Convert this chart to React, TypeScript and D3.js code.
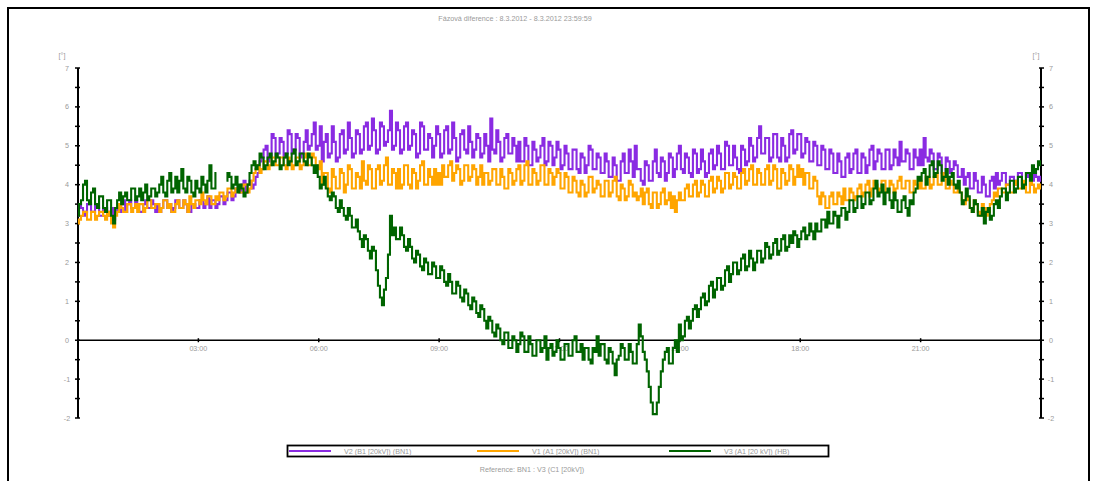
import React from "react";
import * as d3 from "d3";

const TITLE = "Fázová diference :   8.3.2012  -  8.3.2012 23:59:59";
const FOOTER = "Reference: BN1 : V3 (C1 [20kV])";
const UNIT = "[°]";
const SERIES_NAMES = ["V2 (B1 [20kV]) (BN1)", "V1 (A1 [20kV]) (BN1)", "V3 (A1 [20 kV]) (HB)"];
const SERIES_COLORS = ["#8a2be2", "#ffa500", "#006400"];
const Y_TICKS = [7, 6, 5, 4, 3, 2, 1, 0, -1, -2];
const Y_MINOR = [6.5, 5.5, 4.5, 3.5, 2.5, 1.5, 0.5, -0.5, -1.5];
const X_TICKS = [3, 6, 9, 12, 15, 18, 21];
const X_LABELS = ["03:00", "06:00", "09:00", "12:00", "15:00", "18:00", "21:00"];

// readings every 6 minutes (A: hh:00, hh:06 ...), 00:00 .. 24:00
const V2_A: (number | null)[] = [
  3.2, 3.4, 3.3, 3.5, 3.3, 3.4, 3.2, 3.4, 3.3, 3.1,
  3.4, 3.5, 3.3, 3.6, 3.4, 3.5, 3.3, 3.6, 3.4, 3.5,
  3.5, 3.4, 3.6, 3.5, 3.4, 3.6, 3.4, 3.5, 3.3, 3.5,
  3.4, 3.6, 3.5, 3.4, 3.6, 3.5, 3.7, 3.6, 3.8, 3.7,
  3.9, 4.0, 3.8, 4.1, 4.0, 4.3, 4.7, 5.0, 4.7, 5.2,
  4.8, 5.1, 4.8, 5.3, 4.9, 5.2, 4.8, 5.4, 5.0, 5.6,
  5.0, 4.6, 5.3, 4.8, 5.1, 4.7, 5.4, 4.9, 5.2, 4.8,
  5.3, 4.9, 5.6, 5.0, 5.4, 4.9, 5.5, 5.1, 5.9, 5.0,
  5.4, 4.9, 5.6, 5.0, 5.3, 4.8, 5.5, 4.9, 5.2, 5.0,
  5.3, 4.8, 5.5, 4.9, 5.2, 4.7, 5.4, 4.8, 5.1, 4.9,
  5.2, 4.8, 5.0, 5.7, 4.8, 5.1, 4.7, 5.3, 4.8, 5.0,
  5.1, 4.6, 5.0, 4.5, 4.9, 4.7, 5.2, 4.6, 5.0, 4.7,
  4.9, 4.5, 4.8, 4.4, 4.9, 4.3, 4.7, 4.5, 4.9, 4.4,
  4.7, 4.3, 4.6, 4.2, 4.5, 4.1, 4.8, 4.3, 4.6, 5.0,
  4.4, 4.0, 4.5, 4.1, 4.9, 4.2, 4.6, 4.3, 4.7, 4.4,
  5.0, 4.3, 4.7, 4.2, 4.8, 4.4, 4.6, 4.3, 4.9, 4.5,
  4.8, 4.4, 5.0, 4.5, 4.7, 4.3, 4.9, 4.6, 5.0, 4.7,
  5.5, 4.8, 5.2, 4.7, 5.3, 4.6, 5.0, 4.7, 5.4, 4.9,
  5.3, 4.8, 5.1, 4.6, 5.0, 4.5, 4.9, 4.4, 4.8, 4.3,
  4.6, 4.2, 4.8, 4.4, 4.9, 4.3, 4.7, 4.5, 5.0, 4.6,
  4.8, 4.4, 4.9, 4.5, 4.7, 5.1, 4.6, 4.8, 4.4, 4.7,
  4.9, 5.2, 4.6, 4.8, 4.4, 4.7, 4.3, 4.6, 4.4, 4.5,
  4.2, 4.0, 4.3, 3.9, 4.1, 3.8, 4.0, 3.7, 4.2, 4.3,
  4.1, 4.3, 4.0, 4.2, 4.1, 4.3, 4.0, 4.2, 4.1, 4.2,
  4.2,
];
// readings 3 minutes after each A reading
const V2_B: (number | null)[] = [
  3.5, 3.2, 3.5, 3.3, 3.5, 3.2, 3.4, 3.2, 3.4, 3.3,
  3.3, 3.6, 3.5, 3.4, 3.6, 3.3, 3.5, 3.4, 3.6, 3.3,
  3.3, 3.6, 3.4, 3.3, 3.6, 3.4, 3.6, 3.3, 3.5, 3.4,
  3.6, 3.4, 3.7, 3.6, 3.4, 3.7, 3.5, 3.8, 3.6, 3.9,
  3.8, 4.1, 4.0, 3.9, 4.2, 4.6, 4.9, 4.6, 5.3, 4.7,
  5.2, 4.7, 5.4, 4.8, 5.3, 4.7, 5.1, 4.9, 5.3, 4.9,
  5.5, 5.1, 4.7, 5.5, 4.6, 5.3, 4.8, 5.6, 4.7, 5.4,
  4.8, 5.5, 4.9, 5.7, 4.8, 5.6, 5.0, 5.4, 4.9, 5.6,
  4.8, 5.5, 4.9, 5.4, 4.7, 5.6, 4.9, 5.3, 4.7, 5.5,
  4.7, 5.4, 4.8, 5.6, 4.6, 5.3, 4.9, 5.5, 4.7, 5.3,
  4.7, 5.3, 4.6, 4.9, 5.4, 4.6, 5.2, 4.8, 5.2, 4.6,
  4.6, 5.2, 4.5, 5.1, 4.6, 5.0, 4.5, 5.1, 4.5, 5.1,
  4.4, 5.0, 4.4, 4.9, 4.4, 4.8, 4.3, 5.0, 4.4, 4.8,
  4.3, 4.8, 4.2, 4.7, 4.1, 4.6, 4.3, 4.9, 4.2, 4.4,
  4.1, 4.6, 4.1, 4.6, 4.3, 4.7, 4.1, 4.8, 4.2, 4.8,
  4.4, 4.8, 4.3, 4.9, 4.3, 4.9, 4.2, 4.8, 4.4, 5.0,
  4.4, 5.1, 4.5, 5.0, 4.4, 5.0, 4.5, 5.2, 4.6, 5.2,
  4.8, 5.2, 4.6, 5.3, 4.7, 5.2, 4.6, 5.3, 4.8, 5.3,
  4.7, 5.2, 4.6, 5.1, 4.5, 5.0, 4.4, 4.9, 4.3, 4.8,
  4.2, 4.7, 4.3, 4.8, 4.3, 4.8, 4.3, 4.9, 4.4, 4.9,
  4.4, 4.9, 4.4, 4.9, 4.5, 4.6, 4.9, 4.4, 4.9, 4.5,
  4.5, 4.7, 4.9, 4.4, 4.8, 4.3, 4.7, 4.3, 4.6, 4.2,
  4.4, 4.2, 3.9, 4.3, 3.8, 4.2, 3.7, 4.1, 3.9, 4.0,
  4.3, 4.0, 4.2, 4.0, 4.3, 4.0, 4.3, 4.0, 4.3, 4.1,
];

const V1_A: (number | null)[] = [
  3.0, 3.2, 3.3, 3.1, 3.3, 3.2, 3.3, 3.1, 3.2, 2.9,
  3.3, 3.4, 3.3, 3.5, 3.4, 3.3, 3.5, 3.4, 3.6, 3.4,
  3.5, 3.4, 3.6, 3.5, 3.3, 3.6, 3.4, 3.5, 3.7, 3.4,
  3.6, 3.8, 3.5, 3.7, 3.5, 3.6, 3.8, 3.7, 3.9, 3.8,
  3.9, 3.8, 4.0, 3.9, 4.3, 4.5, 4.4, 4.6, 4.5, 4.7,
  4.5, 4.7, 4.4, 4.6, 4.5, 4.7, 4.5, 4.8, 4.5, 4.7,
  4.4, 4.0, 4.3, 3.8, 4.2, 3.9, 4.3, 4.0, 4.4, 3.9,
  4.2, 4.6, 4.0, 4.4, 3.9, 4.5, 4.1, 4.7, 4.0, 4.3,
  4.4, 4.0, 4.5, 3.9, 4.3, 4.1, 4.6, 4.0, 4.2, 4.4,
  4.3, 4.5, 4.2, 4.6, 4.3, 4.4, 4.1, 4.5, 4.2, 4.4,
  4.2, 4.0, 4.3, 4.1, 4.4, 4.0, 4.2, 3.9, 4.3, 4.1,
  4.5, 4.1, 4.6, 4.0, 4.3, 4.1, 4.5, 4.0, 4.3, 4.2,
  4.3, 3.9, 4.2, 3.8, 4.1, 3.7, 4.0, 3.8, 4.2, 3.9,
  4.0, 3.7, 4.1, 3.8, 4.2, 3.6, 3.9, 3.7, 4.0, 3.8,
  3.7, 3.5, 3.9, 3.4, 3.8, 3.5, 3.9, 3.6, 3.4, 3.3,
  3.8, 3.6, 4.0, 3.7, 4.1, 3.8, 4.0, 3.7, 4.2, 3.9,
  4.1, 3.9, 4.3, 4.0, 4.2, 3.9, 4.4, 4.1, 4.5, 4.0,
  4.3, 4.0, 4.5, 4.1, 4.4, 3.9, 4.3, 4.1, 4.4, 4.2,
  4.2, 4.0, 4.3, 3.9, 4.1, 3.5, 3.7, 3.4, 3.8, 3.5,
  3.7, 3.9, 3.6, 3.8, 3.7, 4.0, 3.8, 4.1, 3.9, 4.0,
  3.9, 4.1, 3.8, 4.0, 3.9, 4.2, 3.9, 4.1, 3.8, 4.0,
  4.1, 3.9, 4.2, 4.0, 4.3, 4.0, 4.2, 3.9, 4.0, 3.8,
  3.8, 3.5, 3.6, 3.3, 3.5, 3.2, 3.4, 3.3, 3.6, 3.7,
  3.9, 3.8, 4.0, 3.8, 4.1, 3.9, 4.0, 3.8, 4.0, 3.9,
  3.9,
];
const V1_B: (number | null)[] = [
  3.1, 3.3, 3.1, 3.3, 3.1, 3.3, 3.2, 3.3, 3.0, 3.2,
  3.5, 3.3, 3.5, 3.3, 3.5, 3.5, 3.3, 3.6, 3.4, 3.5,
  3.3, 3.6, 3.4, 3.3, 3.5, 3.4, 3.6, 3.3, 3.5, 3.6,
  3.5, 3.6, 3.7, 3.5, 3.7, 3.8, 3.6, 3.9, 3.7, 3.9,
  3.8, 4.0, 3.8, 4.1, 4.4, 4.3, 4.6, 4.4, 4.7, 4.5,
  4.7, 4.5, 4.7, 4.4, 4.7, 4.4, 4.7, 4.5, 4.8, 4.5,
  4.6, 4.3, 3.9, 4.4, 3.9, 4.4, 3.8, 4.5, 3.9, 4.3,
  3.9, 4.1, 4.5, 3.9, 4.4, 4.0, 4.5, 4.0, 4.4, 3.9,
  3.9, 4.5, 4.0, 4.4, 3.9, 4.5, 4.0, 4.4, 4.0, 4.0,
  4.0, 4.2, 4.5, 4.1, 4.5, 4.0, 4.5, 4.1, 4.5, 4.0,
  4.5, 4.3, 4.0, 4.4, 4.0, 4.4, 3.9, 4.4, 4.0, 4.4,
  4.0, 4.5, 4.0, 4.4, 4.0, 4.5, 4.0, 4.4, 4.0, 4.4,
  3.9, 4.3, 3.8, 4.2, 3.8, 4.1, 3.7, 4.2, 3.8, 4.1,
  3.7, 4.1, 3.7, 4.1, 3.7, 4.0, 3.6, 4.1, 3.7, 3.6,
  3.9, 3.8, 3.5, 3.8, 3.4, 3.8, 3.5, 3.8, 3.7, 3.6,
  3.6, 3.9, 3.7, 4.0, 3.7, 4.1, 3.7, 4.1, 3.8, 4.2,
  3.8, 4.3, 3.9, 4.3, 3.9, 4.3, 4.0, 4.4, 4.0, 4.4,
  4.0, 4.4, 4.0, 4.5, 3.9, 4.4, 4.0, 4.5, 4.0, 4.5,
  4.4, 4.3, 3.9, 4.2, 3.7, 3.8, 3.4, 3.7, 3.5, 3.8,
  3.5, 3.6, 3.9, 3.6, 3.9, 3.7, 4.0, 3.7, 4.1, 3.8,
  4.1, 3.8, 4.1, 3.8, 4.1, 3.9, 4.1, 3.8, 4.1, 3.9,
  3.9, 4.2, 3.9, 4.2, 4.0, 4.3, 3.9, 4.1, 3.8, 3.9,
  3.6, 3.7, 3.4, 3.6, 3.3, 3.5, 3.2, 3.5, 3.8, 3.9,
  3.8, 4.0, 3.8, 4.0, 3.9, 4.1, 3.8, 4.1, 3.8, 4.0,
];

const V3_A: (number | null)[] = [
  3.2, 3.6, 4.1, 3.5, 3.9, 3.4, 3.7, 3.3, 3.6, 3.0,
  3.6, 3.5, 3.8, 3.6, 3.9, 3.7, 3.6, 4.0, 3.7, 3.9,
  3.8, 4.2, 3.7, 4.3, 3.9, 3.8, 4.4, 3.8, 4.1, 3.7,
  3.9, 4.2, 3.8, 4.5, 3.9, null, null, 4.1, 4.2, 4.0,
  3.8, 3.9, 3.8, 4.3, 4.6, 4.5, 4.7, 4.5, 4.8, 4.6,
  4.7, 4.5, 4.8, 4.6, 4.9, 4.6, 4.8, 4.5, 4.7, 4.3,
  4.2, 4.0, 3.9, 3.6, 3.7, 3.3, 3.4, 3.1, 3.2, 2.9,
  2.8, 2.4, 2.6, 2.1, 2.3, 1.4, 0.9, 1.6, 3.2, 2.9,
  2.6, 2.7, 2.3, 2.4, 2.0, 2.2, 1.8, 2.0, 1.7, 1.9,
  1.6, 1.8, 1.4, 1.5, 1.2, 1.4, 1.0, 1.2, 0.8, 1.0,
  0.6, 0.8, 0.3, 0.5, 0.1, 0.3, -0.1, 0.2, -0.2, 0.0,
  -0.1, 0.1, -0.3, -0.1, -0.4, 0.0, -0.2, -0.5, -0.1, -0.3,
  -0.2, -0.5, -0.1, -0.4, 0.1, -0.3, -0.5, -0.2, -0.6, -0.3,
  -0.4, -0.1, -0.6, -0.3, -0.9, -0.4, -0.2, -0.5, -0.3, -0.6,
  0.4, -0.3, -0.8, -1.6, -1.9, -1.2, -0.5, -0.2, -0.6, 0.0,
  0.4, 0.1, 0.6, 0.5, 0.9, 0.8, 1.2, 1.0, 1.5, 1.3,
  1.6, 1.4, 1.9, 1.7, 2.0, 1.8, 2.2, 1.9, 2.1, 2.0,
  2.3, 2.1, 2.4, 2.2, 2.6, 2.3, 2.7, 2.4, 2.5, 2.7,
  2.6, 2.9, 2.7, 2.8, 3.0, 2.8, 3.1, 3.3, 3.0, 3.2,
  3.2, 3.4, 3.3, 3.6, 3.4, 3.7, 3.5, 3.8, 3.6, 4.1,
  3.8, 3.5, 3.9, 3.4, 3.6, 3.3, 3.7, 3.2, 3.5, 3.9,
  4.1, 4.4, 4.2, 4.6, 4.3, 4.5, 4.2, 4.0, 4.3, 3.9,
  3.8, 3.6, 3.7, 3.3, 3.5, 3.2, 3.0, 3.4, 3.2, 3.6,
  3.7, 3.9, 3.8, 4.1, 3.9, 4.2, 4.0, 4.3, 4.5, 4.4,
  4.5,
];
const V3_B: (number | null)[] = [
  3.5, 4.0, 3.6, 3.8, 3.5, 3.7, 3.4, 3.6, 3.2, 3.4,
  3.8, 3.7, 3.6, 3.9, 3.6, 3.9, 3.8, 3.6, 3.9, 3.7,
  4.0, 3.8, 4.1, 3.8, 4.2, 4.1, 3.9, 4.2, 3.8, 4.1,
  3.8, 4.0, 4.1, 3.9, 4.3, null, null, 4.3, 3.9, 4.2,
  4.0, 3.7, 4.0, 4.5, 4.4, 4.8, 4.4, 4.7, 4.5, 4.8,
  4.4, 4.7, 4.5, 4.8, 4.5, 4.8, 4.6, 4.8, 4.5, 4.5,
  3.9, 4.2, 3.7, 3.8, 3.4, 3.6, 3.2, 3.4, 2.9, 3.1,
  2.6, 2.7, 2.3, 2.4, 1.8, 1.1, 1.3, 2.2, 2.7, 2.6,
  2.9, 2.4, 2.6, 2.1, 2.3, 1.9, 2.1, 1.7, 2.0, 1.6,
  1.9, 1.5, 1.7, 1.2, 1.5, 1.1, 1.3, 0.9, 1.1, 0.7,
  0.9, 0.5, 0.6, 0.2, 0.4, 0.0, 0.2, -0.2, 0.1, -0.3,
  0.2, -0.3, 0.1, -0.4, 0.0, -0.3, 0.1, -0.2, -0.4, 0.0,
  -0.5, -0.1, -0.4, 0.0, -0.3, -0.1, -0.2, -0.5, -0.2, 0.1,
  -0.1, -0.5, -0.2, -0.6, -0.5, -0.1, -0.5, -0.1, -0.6, -0.1,
  0.1, -0.5, -1.2, -1.9, -1.6, -0.8, -0.3, -0.6, -0.2, -0.3,
  0.0, 0.5, 0.3, 0.8, 0.6, 1.1, 0.9, 1.4, 1.1, 1.6,
  1.3, 1.8, 1.5, 2.0, 1.7, 2.1, 1.8, 2.3, 1.8, 2.3,
  2.0, 2.5, 2.1, 2.5, 2.2, 2.6, 2.3, 2.7, 2.8, 2.4,
  2.8, 2.6, 3.0, 2.6, 2.8, 3.1, 2.9, 3.0, 3.3, 2.9,
  3.4, 3.1, 3.6, 3.3, 3.7, 3.4, 3.8, 3.5, 3.9, 3.7,
  4.0, 3.8, 3.6, 3.8, 3.3, 3.6, 3.4, 3.6, 3.8, 4.2,
  4.3, 4.0, 4.5, 4.2, 4.6, 4.1, 4.4, 4.2, 4.0, 4.1,
  3.5, 3.9, 3.4, 3.6, 3.2, 3.4, 3.3, 3.1, 3.5, 3.4,
  3.9, 3.6, 4.1, 3.8, 4.2, 3.9, 4.3, 4.1, 4.3, 4.6,
];

const SERIES: [(number | null)[], (number | null)[]][] = [
  [V2_A, V2_B],
  [V1_A, V1_B],
  [V3_A, V3_B],
];
const STEP_HOURS = 0.1;

type Pt = { t: number; v: number | null };
function merge(a: (number | null)[], b: (number | null)[]): Pt[] {
  const out: Pt[] = [];
  a.forEach((v, i) => {
    out.push({ t: i * STEP_HOURS, v });
    if (i < b.length) out.push({ t: i * STEP_HOURS + STEP_HOURS / 2, v: b[i] });
  });
  return out;
}

const W = 1094;
const H = 481;
const FONT = "'Liberation Sans', Arial, sans-serif";
const GRAY = "#9a9a9a";
const FS = 7.2;

export default function App() {
  const x = d3.scaleLinear().domain([0, 24]).range([78, 1041]);
  const y = d3.scaleLinear().domain([-2, 7]).range([418, 68]);
  const line = d3
    .line<Pt>()
    .defined((d) => d.v !== null)
    .curve(d3.curveStep)
    .x((d) => x(d.t))
    .y((d) => y(d.v as number));

  const legendX = [289, 477, 669];

  return (
    <svg
      width={W}
      height={H}
      style={{ position: "absolute", left: 0, top: 0, background: "#fff" }}
      fontFamily={FONT}
    >
      {/* outer frame */}
      <rect x={8} y={8} width={1081} height={500} fill="none" stroke="#000" strokeWidth={2} />
      <text x={515} y={21} fontSize={FS} fill={GRAY} textAnchor="middle">
        {TITLE}
      </text>

      {/* zero line */}
      <line x1={x(0)} x2={x(24)} y1={y(0)} y2={y(0)} stroke="#000" strokeWidth={1.5} />
      {X_TICKS.map((t, i) => (
        <g key={t}>
          <line x1={x(t)} x2={x(t)} y1={y(0) - 2} y2={y(0) + 2} stroke="#000" strokeWidth={1.5} />
          <text x={x(t)} y={y(0) + 11} fontSize={FS} fill={GRAY} textAnchor="middle">
            {X_LABELS[i]}
          </text>
        </g>
      ))}

      {/* left axis */}
      <line x1={x(0)} x2={x(0)} y1={y(7)} y2={y(-2)} stroke="#000" strokeWidth={2} />
      <text x={62} y={58} fontSize={FS} fill={GRAY} textAnchor="middle">{UNIT}</text>
      {Y_TICKS.map((t) => (
        <g key={"l" + t}>
          <line x1={x(0) - 3} x2={x(0) + 2} y1={y(t)} y2={y(t)} stroke="#000" strokeWidth={1.5} />
          <text x={67} y={y(t) + 2.5} fontSize={FS} fill={GRAY} textAnchor="middle">{t}</text>
        </g>
      ))}
      {Y_MINOR.map((t) => (
        <line key={"lm" + t} x1={x(0) - 3} x2={x(0) + 2} y1={y(t)} y2={y(t)} stroke="#000" strokeWidth={1.5} />
      ))}

      {/* right axis */}
      <line x1={x(24)} x2={x(24)} y1={y(7)} y2={y(-2)} stroke="#000" strokeWidth={2} />
      <text x={1036} y={58} fontSize={FS} fill={GRAY} textAnchor="middle">{UNIT}</text>
      {Y_TICKS.map((t) => (
        <g key={"r" + t}>
          <line x1={x(24) - 2} x2={x(24) + 3} y1={y(t)} y2={y(t)} stroke="#000" strokeWidth={1.5} />
          <text x={1051} y={y(t) + 2.5} fontSize={FS} fill={GRAY} textAnchor="middle">{t}</text>
        </g>
      ))}
      {Y_MINOR.map((t) => (
        <line key={"rm" + t} x1={x(24) - 2} x2={x(24) + 3} y1={y(t)} y2={y(t)} stroke="#000" strokeWidth={1.5} />
      ))}

      {/* series */}
      {SERIES.map(([a, b], i) => (
        <path key={i} d={line(merge(a, b)) || ""} fill="none" stroke={SERIES_COLORS[i]} strokeWidth={2.1} strokeLinejoin="miter" />
      ))}

      {/* legend */}
      <rect x={287.5} y={445.5} width={541} height={11} fill="#fff" stroke="#000" strokeWidth={1.8} />
      {SERIES_NAMES.map((n, i) => (
        <g key={n}>
          <line x1={legendX[i]} x2={legendX[i] + 42} y1={451} y2={451} stroke={SERIES_COLORS[i]} strokeWidth={2} />
          <text x={legendX[i] + 55} y={453.5} fontSize={FS} fill={GRAY}>{n}</text>
        </g>
      ))}
      <text x={532} y={472} fontSize={FS} fill={GRAY} textAnchor="middle">{FOOTER}</text>
    </svg>
  );
}
